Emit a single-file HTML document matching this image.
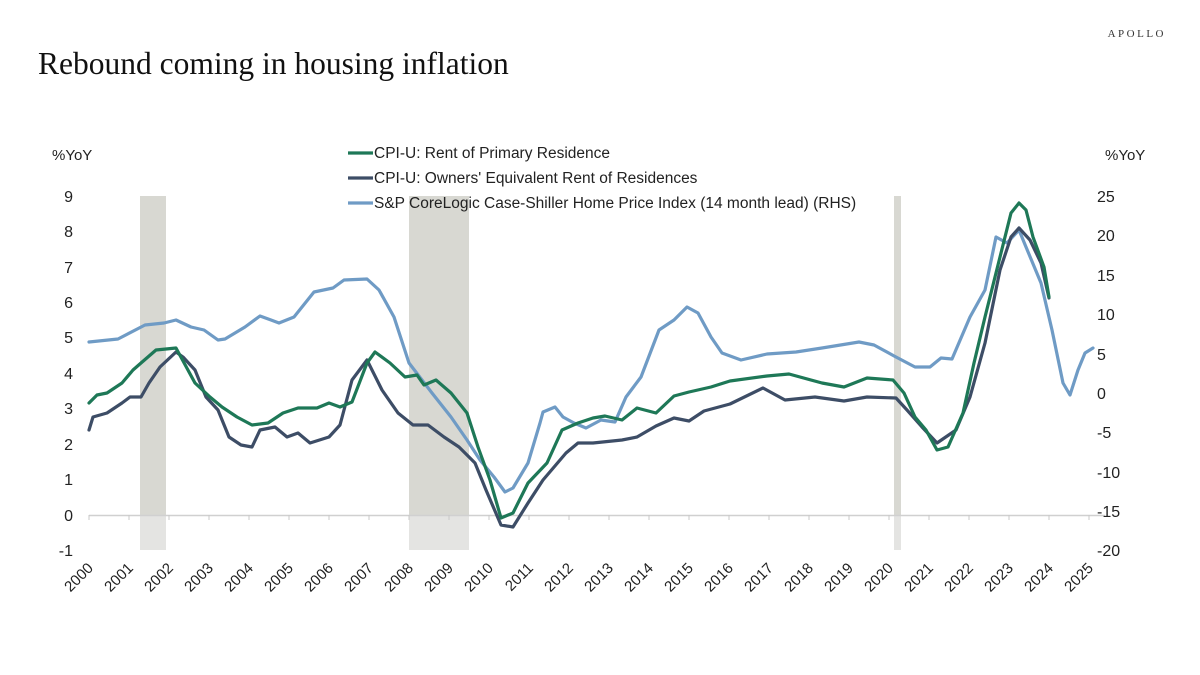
<!DOCTYPE html>
<html><head><meta charset="utf-8"><style>
html,body{margin:0;padding:0;background:#fff;}
svg{display:block;}
text{font-family:"Liberation Sans",sans-serif;fill:#222;}
</style></head><body>
<svg width="1200" height="675" viewBox="0 0 1200 675" xmlns="http://www.w3.org/2000/svg">
<text x="1166" y="37" text-anchor="end" style="font-family:'Liberation Serif',serif;font-size:11px;letter-spacing:2.5px;fill:#333">APOLLO</text>
<text x="38" y="74" style="font-family:'Liberation Serif',serif;font-size:31.5px;fill:#111">Rebound coming in housing inflation</text>
<text x="52" y="160" style="font-size:15px">%YoY</text>
<text x="1105" y="160" style="font-size:15px">%YoY</text>
<!-- recession bands -->
<rect x="140" y="196" width="26" height="319" fill="#d8d8d2"/>
<rect x="140" y="515" width="26" height="35" fill="#e4e4e2"/>
<rect x="409" y="196" width="60" height="319" fill="#d8d8d2"/>
<rect x="409" y="515" width="60" height="35" fill="#e4e4e2"/>
<rect x="894" y="196" width="7" height="319" fill="#d8d8d2"/>
<rect x="894" y="515" width="7" height="35" fill="#e4e4e2"/>
<!-- axis -->
<line x1="89" y1="515.5" x2="1105" y2="515.5" stroke="#d0d0d0" stroke-width="1.5"/>
<g stroke="#c8c8c8" stroke-width="1">
<line x1="89" y1="515" x2="89" y2="520"/><line x1="129" y1="515" x2="129" y2="520"/><line x1="169" y1="515" x2="169" y2="520"/><line x1="209" y1="515" x2="209" y2="520"/><line x1="249" y1="515" x2="249" y2="520"/><line x1="289" y1="515" x2="289" y2="520"/><line x1="329" y1="515" x2="329" y2="520"/><line x1="369" y1="515" x2="369" y2="520"/><line x1="409" y1="515" x2="409" y2="520"/><line x1="449" y1="515" x2="449" y2="520"/><line x1="489" y1="515" x2="489" y2="520"/><line x1="529" y1="515" x2="529" y2="520"/><line x1="569" y1="515" x2="569" y2="520"/><line x1="609" y1="515" x2="609" y2="520"/><line x1="649" y1="515" x2="649" y2="520"/><line x1="689" y1="515" x2="689" y2="520"/><line x1="729" y1="515" x2="729" y2="520"/><line x1="769" y1="515" x2="769" y2="520"/><line x1="809" y1="515" x2="809" y2="520"/><line x1="849" y1="515" x2="849" y2="520"/><line x1="889" y1="515" x2="889" y2="520"/><line x1="929" y1="515" x2="929" y2="520"/><line x1="969" y1="515" x2="969" y2="520"/><line x1="1009" y1="515" x2="1009" y2="520"/><line x1="1049" y1="515" x2="1049" y2="520"/><line x1="1089" y1="515" x2="1089" y2="520"/>
</g>
<!-- left axis labels -->
<g style="font-size:16px" text-anchor="end">
<text x="73" y="202">9</text><text x="73" y="237">8</text><text x="73" y="273">7</text><text x="73" y="308">6</text><text x="73" y="343">5</text><text x="73" y="379">4</text><text x="73" y="414">3</text><text x="73" y="450">2</text><text x="73" y="485">1</text><text x="73" y="521">0</text><text x="73" y="556">-1</text>
</g>
<g style="font-size:16px">
<text x="1097" y="202">25</text><text x="1097" y="241">20</text><text x="1097" y="281">15</text><text x="1097" y="320">10</text><text x="1097" y="360">5</text><text x="1097" y="399">0</text><text x="1097" y="438">-5</text><text x="1097" y="478">-10</text><text x="1097" y="517">-15</text><text x="1097" y="556">-20</text>
</g>
<!-- year labels -->
<g style="font-size:15px" text-anchor="end">
<text transform="translate(94,569) rotate(-45)">2000</text><text transform="translate(134,569) rotate(-45)">2001</text><text transform="translate(174,569) rotate(-45)">2002</text><text transform="translate(214,569) rotate(-45)">2003</text><text transform="translate(254,569) rotate(-45)">2004</text><text transform="translate(294,569) rotate(-45)">2005</text><text transform="translate(334,569) rotate(-45)">2006</text><text transform="translate(374,569) rotate(-45)">2007</text><text transform="translate(414,569) rotate(-45)">2008</text><text transform="translate(454,569) rotate(-45)">2009</text><text transform="translate(494,569) rotate(-45)">2010</text><text transform="translate(534,569) rotate(-45)">2011</text><text transform="translate(574,569) rotate(-45)">2012</text><text transform="translate(614,569) rotate(-45)">2013</text><text transform="translate(654,569) rotate(-45)">2014</text><text transform="translate(694,569) rotate(-45)">2015</text><text transform="translate(734,569) rotate(-45)">2016</text><text transform="translate(774,569) rotate(-45)">2017</text><text transform="translate(814,569) rotate(-45)">2018</text><text transform="translate(854,569) rotate(-45)">2019</text><text transform="translate(894,569) rotate(-45)">2020</text><text transform="translate(934,569) rotate(-45)">2021</text><text transform="translate(974,569) rotate(-45)">2022</text><text transform="translate(1014,569) rotate(-45)">2023</text><text transform="translate(1054,569) rotate(-45)">2024</text><text transform="translate(1094,569) rotate(-45)">2025</text>
</g>
<g fill="none" stroke-width="3.2" stroke-linejoin="round" stroke-linecap="round">
<polyline stroke="#6f9bc5" points="89,342 118,339 145,325 164,323 176,320 191,327 204,330 218,340 225,339 245,327 260,316 271,320 279,323 294,317 314,292 333,288 344,280 367,279 379,290 394,317 409,363 432,393 451,417 467,440 480,460 494,477 505,492 513,488 528,463 540,423 543,412 555,407 563,417 574,423 586,428 601,420 615,422 626,397 641,377 659,330 674,320 687,307 698,313 711,337 722,353 741,360 767,354 796,352 822,348 859,342 874,345 896,357 915,367 930,367 941,358 952,359 970,317 985,290 996,237 1007,243 1019,230 1026,247 1041,283 1052,330 1063,383 1070,395 1078,370 1085,353 1093,348"/>
<polyline stroke="#3d4d66" points="89,430 93,417 107,413 122,403 130,397 141,397 149,383 160,367 176,352 183,357 195,370 206,397 218,410 229,437 241,445 252,447 260,430 275,427 287,437 298,433 310,443 329,437 340,425 352,380 367,360 382,390 398,413 413,425 428,425 444,437 459,447 475,463 486,490 501,525 513,527 528,503 543,480 566,453 578,443 593,443 622,440 637,437 656,426 674,418 689,421 704,411 730,404 763,388 785,400 815,397 844,401 867,397 896,398 907,410 922,427 937,443 956,430 970,397 985,343 1000,270 1011,237 1019,228 1030,240 1041,263 1049,298"/>
<polyline stroke="#1e7857" points="89,403 97,395 107,393 122,383 133,370 141,363 156,350 176,348 195,383 210,397 222,407 237,417 252,425 268,423 283,413 298,408 317,408 329,403 340,407 352,402 367,363 375,352 390,363 405,377 417,375 424,385 436,380 451,393 467,413 478,447 490,480 501,518 513,513 528,483 547,463 562,430 578,423 593,418 605,416 622,420 637,408 656,413 674,396 689,392 711,387 730,381 767,376 789,374 822,383 844,387 867,378 893,380 904,393 915,417 926,430 937,450 948,447 963,413 974,363 985,317 1000,257 1011,213 1019,203 1026,210 1033,237 1044,267 1049,297"/>
</g>
<!-- legend -->
<line x1="348" y1="153" x2="373" y2="153" stroke="#1e7857" stroke-width="3.2"/>
<text x="374" y="158" style="font-size:15.5px">CPI-U: Rent of Primary Residence</text>
<line x1="348" y1="178" x2="373" y2="178" stroke="#3d4d66" stroke-width="3.2"/>
<text x="374" y="183" style="font-size:15.5px">CPI-U: Owners' Equivalent Rent of Residences</text>
<line x1="348" y1="203" x2="373" y2="203" stroke="#6f9bc5" stroke-width="3.2"/>
<text x="374" y="208" style="font-size:15.5px">S&amp;P CoreLogic Case-Shiller Home Price Index (14 month lead) (RHS)</text>
</svg>
</body></html>
